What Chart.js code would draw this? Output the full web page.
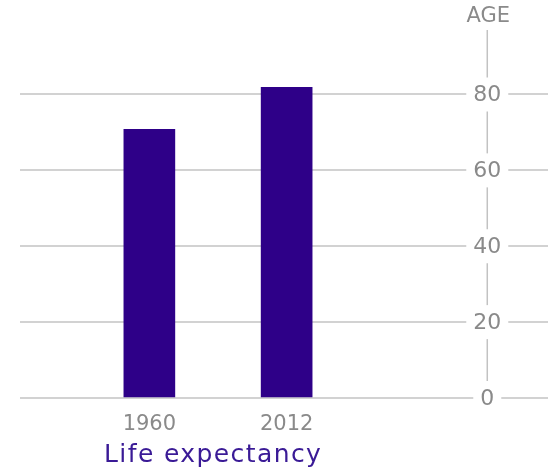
<!DOCTYPE html>
<html>
<head>
<meta charset="utf-8">
<script src="https://cdn.jsdelivr.net/npm/chart.js@4/dist/chart.umd.min.js"></script>
<style>
    html, body { margin: 0; padding: 0; background: #fff; }
    #wrap { width: 549px; height: 474px; }
</style>
</head>
<body>
<div id="wrap"><canvas id="lifeChart"></canvas></div>
<script>
// Data
const years = [1960, 2012];
const ages = [70.8, 81.9];
const ageTicks = [0, 20, 40, 60, 80];
const axisTitle = 'AGE';
const chartTitle = 'Life expectancy';

const barColor = '#2e0088';
const textGray = '#8a8a8a';
const fontFamily = '"DejaVu Sans", Verdana, sans-serif';

// value axis sits at this year on the x scale
const axisAtYear = 2088;

// Draws the value axis line, its labels (with white knock-outs) and the title
const ageAxisPlugin = {
    id: 'ageAxis',
    afterDraw(chart) {
        const ctx = chart.ctx;
        const xScale = chart.scales.x;
        const yScale = chart.scales.y;
        const ax = xScale.getPixelForValue(axisAtYear);
        const top = chart.chartArea.top;
        const zeroY = yScale.getPixelForValue(0);

        ctx.save();
        ctx.strokeStyle = '#c2c2c2';
        ctx.lineWidth = 1.5;
        ctx.beginPath();
        ctx.moveTo(ax, top);
        ctx.lineTo(ax, zeroY);
        ctx.stroke();

        ctx.font = '22px ' + fontFamily;
        ctx.textAlign = 'center';
        ctx.textBaseline = 'middle';
        ageTicks.forEach(v => {
            const y = yScale.getPixelForValue(v);
            const label = String(v);
            const w = ctx.measureText(label).width;
            ctx.fillStyle = '#fff';
            ctx.fillRect(ax - w / 2 - 7, y - 17, w + 14, 34);
            ctx.fillStyle = textGray;
            ctx.fillText(label, ax, y + 1);
        });

        ctx.font = '21px ' + fontFamily;
        ctx.fillStyle = textGray;
        ctx.fillText(axisTitle, ax + 1, 17);

        ctx.font = '25px ' + fontFamily;
        ctx.letterSpacing = '1.4px';
        ctx.fillStyle = '#3a1a96';
        ctx.textAlign = 'left';
        ctx.textBaseline = 'alphabetic';
        ctx.fillText(chartTitle, 104, 462);
        ctx.restore();
    }
};

new Chart(document.getElementById('lifeChart').getContext('2d'), {
    type: 'bar',
    data: {
        datasets: [{
            label: chartTitle,
            data: years.map((yr, i) => ({ x: yr, y: ages[i] })),
            backgroundColor: barColor,
            barThickness: 51,
        }]
    },
    options: {
        responsive: true,
        maintainAspectRatio: false,
        animation: false,
        layout: { padding: { left: 20, right: 1, top: 30, bottom: 0 } },
        plugins: {
            legend: { display: false },
            tooltip: { enabled: false },
        },
        scales: {
            x: {
                type: 'linear',
                offset: false,
                min: 1911,
                max: 2111,
                afterBuildTicks: scale => {
                    scale.ticks = years.map(v => ({ value: v }));
                },
                afterFit: scale => { scale.height = 76; },
                grid: { display: false, offset: false },
                border: { display: false },
                ticks: {
                    padding: 6,
                    color: textGray,
                    font: { family: fontFamily, size: 21 },
                    callback: v => String(v),
                    maxRotation: 0,
                    autoSkip: false,
                }
            },
            y: {
                min: 0,
                max: 97,
                afterBuildTicks: scale => {
                    scale.ticks = ageTicks.map(v => ({ value: v }));
                },
                afterFit: scale => { scale.width = 0; },
                grid: { color: '#d2d2d2', lineWidth: 2, drawTicks: false },
                border: { display: false },
                ticks: { display: false }
            }
        }
    },
    plugins: [ageAxisPlugin]
});
</script>
</body>
</html>
